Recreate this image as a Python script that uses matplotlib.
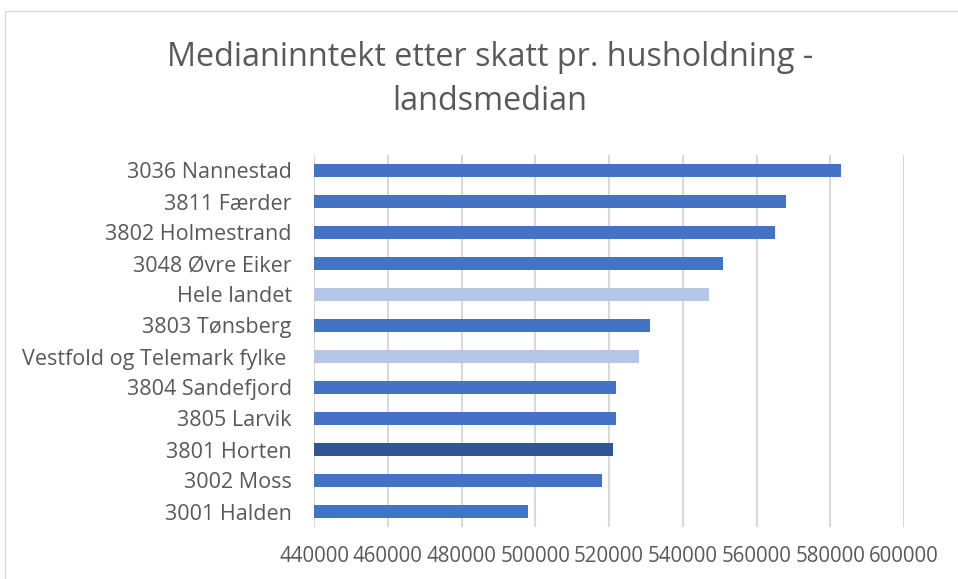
import matplotlib.pyplot as plt
import matplotlib.patches as patches

# data (top to bottom)
kommuner = ["3036 Nannestad", "3811 Færder", "3802 Holmestrand", "3048 Øvre Eiker",
            "Hele landet", "3803 Tønsberg", "Vestfold og Telemark fylke ",
            "3804 Sandefjord", "3805 Larvik", "3801 Horten", "3002 Moss", "3001 Halden"]
inntekt = [583000, 568000, 565000, 551000, 547000, 531000, 528000,
           522000, 522000, 521000, 518000, 498000]
x_ticks = [440000, 460000, 480000, 500000, 520000, 540000, 560000, 580000, 600000]

BLUE = "#4472C4"
LIGHT = "#B4C7E7"
DARK = "#2F5597"
farger = []
for k in kommuner:
    if k.startswith("Hele") or k.startswith("Vestfold"):
        farger.append(LIGHT)
    elif "Horten" in k:
        farger.append(DARK)
    else:
        farger.append(BLUE)

FONT = ["Open Sans", "DejaVu Sans"]
W, H = 958, 579
fig = plt.figure(figsize=(W / 100, H / 100), dpi=100)
ax = fig.add_axes([314 / W, 1 - 527 / H, 590 / W, 372 / H])

# chart border, as in the spreadsheet export
fig.patches.append(patches.Rectangle((5 / W, -0.05), 1.2, 1.05 - 11 / H,
                                     transform=fig.transFigure, fill=False,
                                     edgecolor="#d9d9d9", linewidth=1))

pos = list(range(len(kommuner)))[::-1]
ax.barh(pos, [v - x_ticks[0] for v in inntekt], left=x_ticks[0],
        height=0.42, color=farger, zorder=3)

ax.set_xlim(x_ticks[0], x_ticks[-1])
ax.set_ylim(-0.5, len(kommuner) - 0.5)
ax.set_xticks(x_ticks)
ax.set_xticklabels([str(t) for t in x_ticks], family=FONT, fontsize=14.8, color="#595959")
ax.set_yticks(pos)
ax.set_yticklabels(kommuner, family=FONT, fontsize=15.5, color="#595959")
ax.tick_params(length=0)
ax.tick_params(axis="x", pad=14)
ax.tick_params(axis="y", pad=16)
ax.grid(axis="x", color="#d9d9d9", linewidth=1.5, zorder=0)
for s in ax.spines.values():
    s.set_visible(False)

fig.text(490 / W, 1 - 58 / H, "Medianinntekt etter skatt pr. husholdning -",
         ha="center", va="center", fontsize=23.3, color="#595959", family=FONT)
fig.text(490 / W, 1 - 101 / H, "landsmedian",
         ha="center", va="center", fontsize=23.3, color="#595959", family=FONT)

plt.savefig("out.png", dpi=100)
